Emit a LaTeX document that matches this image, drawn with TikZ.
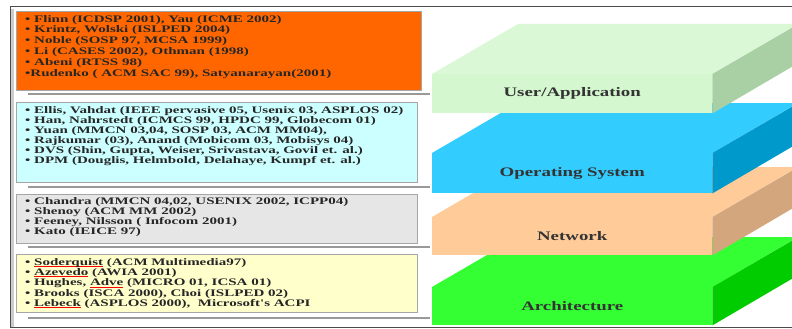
\documentclass[tikz,border=0pt]{standalone}
\usepackage{fontspec}
\setmainfont{Liberation Serif}
\newfontfamily\listfont[FakeStretch=1.5]{Liberation Serif}
\newfontfamily\layerfont[FakeStretch=1.45]{Liberation Serif}
\usepackage{xcolor}
\usetikzlibrary{positioning}

\definecolor{userfront}{HTML}{D4F7CF}
\definecolor{userside}{HTML}{A9CFA5}
\definecolor{osfront}{HTML}{33CCFF}
\definecolor{osside}{HTML}{0099CC}
\definecolor{netfront}{HTML}{FFCC99}
\definecolor{netside}{HTML}{D4A67E}
\definecolor{archfront}{HTML}{33FF33}
\definecolor{archside}{HTML}{00CC00}
\definecolor{appbox}{HTML}{FF6600}
\definecolor{osbox}{HTML}{CCFFFF}
\definecolor{netbox}{HTML}{E6E6E6}
\definecolor{archbox}{HTML}{FFFFCC}

% red spell-check underline
\newsavebox\spellbox
\newcommand\spellmark[1]{\sbox\spellbox{#1}\rlap{\textcolor{red}{\rule[-0.3ex]{\wd\spellbox}{0.4pt}}}\usebox\spellbox}

\begin{document}
\begin{tikzpicture}[x=1pt,y=-1pt,
  listbox/.style={draw=gray!70,line width=1pt,anchor=north west,inner sep=0pt},
  listtext/.style={anchor=north west,inner sep=0pt,align=left,text=black!85},
  slab/.style={minimum width=280pt,inner sep=0pt,anchor=north west,
    font=\layerfont\bfseries\fontsize{13}{15}\selectfont,text=black!80},
  sepline/.style={gray!80,line width=1.2pt}]
\useasboundingbox (0,0) rectangle (792,329);
\clip (0,0) rectangle (792,329);

% frame
\draw[gray!40,line width=4pt] (12,9) -- (12,327);
\draw[black!70,line width=1pt] (10,327) -- (10,7) -- (800,7);
\draw[black!70,line width=1pt] (10,327) -- (800,327);

% left boxes
\node[listbox,fill=appbox,minimum width=405pt,minimum height=79pt] (appbox) at (16,11) {};
\node[listtext,font=\listfont\bfseries\fontsize{10}{10.8}\selectfont,below right=4pt and 9pt of appbox.north west] (apptext) {%
  \textbullet\ Flinn (ICDSP 2001), Yau (ICME 2002)\\
  \textbullet\ Krintz, Wolski (ISLPED 2004)\\
  \textbullet\ Noble (SOSP 97, MCSA 1999)\\
  \textbullet\ Li (CASES 2002), Othman (1998)\\
  \textbullet\ Abeni (RTSS 98)\\
  \textbullet Rudenko ( ACM SAC 99), Satyanarayan(2001)};
\draw[sepline] (28,94) -- (430,94);

\node[listbox,fill=osbox,minimum width=401pt,minimum height=80pt] (osbox) at (16,102) {};
\node[listtext,font=\listfont\bfseries\fontsize{10}{10}\selectfont,below right=4pt and 9pt of osbox.north west] (ostext) {%
  \textbullet\ Ellis, Vahdat (IEEE pervasive 05, Usenix 03, ASPLOS 02)\\
  \textbullet\ Han, Nahrstedt (ICMCS 99, HPDC 99, Globecom 01)\\
  \textbullet\ Yuan (MMCN 03,04, SOSP 03, ACM MM04),\\
  \textbullet\ Rajkumar (03), Anand (Mobicom 03, Mobisys 04)\\
  \textbullet\ DVS (Shin, Gupta, Weiser, Srivastava, Govil et. al.)\\
  \textbullet\ DPM (Douglis, Helmbold, Delahaye, Kumpf et. al.)};
\draw[sepline] (28,187) -- (430,187);

\node[listbox,fill=netbox,minimum width=401pt,minimum height=49pt] (netbox) at (16,194) {};
\node[listtext,font=\listfont\bfseries\fontsize{10}{8.4}\selectfont,below right=3pt and 9pt of netbox.north west] (nettext) {%
  \textbullet\ Chandra (MMCN 04,02, USENIX 2002, ICPP04)\\
  \textbullet\ Shenoy (ACM MM 2002)\\
  \textbullet\ Feeney, Nilsson ( Infocom 2001)\\
  \textbullet\ Kato (IEICE 97)};
\draw[sepline] (28,247) -- (430,247);

\node[listbox,fill=archbox,minimum width=401pt,minimum height=58pt] (archbox) at (16,254) {};
\node[listtext,font=\listfont\bfseries\fontsize{10}{10.3}\selectfont,below right=4pt and 9pt of archbox.north west] (archtext) {%
  \textbullet\ \spellmark{Soderquist} (ACM Multimedia97)\\
  \textbullet\ \spellmark{Azevedo} (AWIA 2001)\\
  \textbullet\ Hughes, \spellmark{Adve} (MICRO 01, ICSA 01)\\
  \textbullet\ Brooks (ISCA 2000), Choi (ISLPED 02)\\
  \textbullet\ \spellmark{Lebeck} (ASPLOS 2000), \ Microsoft's ACPI};
\draw[sepline] (28,318) -- (430,318);

% layers, bottom one first
\node[slab,fill=archfront,minimum height=38pt] (arch) at (432,287) {Architecture};
\fill[archfront] (arch.north west) -- ++(86,-50) -- ++(280,0) -- (arch.north east) -- cycle;
\fill[archside] (arch.north east) -- ++(86,-50) -- ++(0,38) -- (arch.south east) -- cycle;

\node[slab,fill=netfront,minimum height=38pt] (net) at (432,217) {Network};
\fill[netfront] (net.north west) -- ++(86,-50) -- ++(280,0) -- (net.north east) -- cycle;
\fill[netside] (net.north east) -- ++(86,-50) -- ++(0,38) -- (net.south east) -- cycle;

\node[slab,fill=osfront,minimum height=40pt] (os) at (432,153) {Operating System};
\fill[osfront] (os.north west) -- ++(86,-50) -- ++(280,0) -- (os.north east) -- cycle;
\fill[osside] (os.north east) -- ++(86,-50) -- ++(0,40) -- (os.south east) -- cycle;

\node[slab,fill=userfront,minimum height=39pt] (user) at (432,74) {User/Application};
\fill[userfront!85!white] (user.north west) -- ++(86,-50) -- ++(280,0) -- (user.north east) -- cycle;
\fill[userside] (user.north east) -- ++(86,-50) -- ++(0,39) -- (user.south east) -- cycle;
\end{tikzpicture}
\end{document}
